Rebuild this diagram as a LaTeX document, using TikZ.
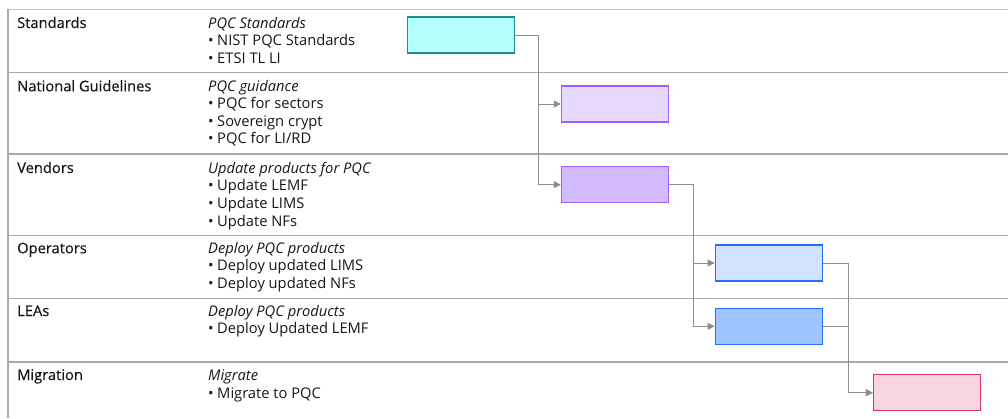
\documentclass[tikz,border=0pt]{standalone}
\usepackage{fontspec}
\setmainfont{Open Sans}
\newfontface\labfont{Open Sans}[FakeBold=0.35]
\usetikzlibrary{arrows.meta}
\definecolor{ink}{HTML}{161616}
\definecolor{sep}{HTML}{A8A8A8}
\definecolor{topsep}{HTML}{C6C6C6}
\definecolor{conncol}{HTML}{8D8D8D}
\definecolor{tealfill}{HTML}{B5FFFF}
\definecolor{tealline}{HTML}{1A8F8C}
\definecolor{purplefillA}{HTML}{E8DAFF}
\definecolor{purplefillB}{HTML}{D4BBFF}
\definecolor{purpleline}{HTML}{A060FF}
\definecolor{bluefillA}{HTML}{D0E2FF}
\definecolor{bluefillB}{HTML}{A0C4FF}
\definecolor{blueline}{HTML}{1F70FF}
\definecolor{magfill}{HTML}{F7D5E1}
\definecolor{magline}{HTML}{D6336F}
\begin{document}
\begin{tikzpicture}[x=1pt,y=-1pt,
  lanetext/.style={anchor=base west,inner sep=0pt,text=ink,font=\fontsize{14.7}{17}\selectfont},
  lanelabel/.style={lanetext,font=\fontsize{14.7}{17}\selectfont\labfont},
  lanehead/.style={lanetext,font=\fontsize{14.7}{17}\selectfont\itshape},
  bul/.style={lanetext},
  sepline/.style={draw=sep,line width=1.3pt},
  bar/.style={draw,line width=1.4pt,minimum width=107pt,minimum height=36pt,inner sep=0pt},
  conn/.style={draw=conncol,line width=1pt,-{Triangle[length=7pt,width=7pt]}}
]
\useasboundingbox (0,0) rectangle (1008,418);
% frame
\draw[draw=topsep,line width=1.5pt] (8,9.3) -- (1008,9.3);
\draw[sepline] (8,72.3) -- (1008,72.3);
\draw[sepline] (8,154) -- (1008,154);
\draw[sepline] (8,235.3) -- (1008,235.3);
\draw[sepline] (8,298.7) -- (1008,298.7);
\draw[sepline] (8,362) -- (1008,362);
\draw[sepline] (8,9.3) -- (8,418);
% lane labels
\node[lanelabel] (l1) at (17,28) {Standards};
\node[lanelabel] (l2) at (17,91.3) {National Guidelines};
\node[lanelabel] (l3) at (17,173) {Vendors};
\node[lanelabel] (l4) at (17,253.3) {Operators};
\node[lanelabel] (l5) at (17,316) {LEAs};
\node[lanelabel] (l6) at (17,380) {Migration};
% descriptions
\node[lanehead] (h1) at (208,28) {PQC Standards};
\node[bul] (b11) at (208,45.7) {•\hspace{3.5pt}NIST PQC Standards};
\node[bul] (b12) at (208,63) {•\hspace{3.5pt}ETSI TL LI};
\node[lanehead] (h2) at (208,91.3) {PQC guidance};
\node[bul] (b21) at (208,108.8) {•\hspace{3.5pt}PQC for sectors};
\node[bul] (b22) at (208,126.3) {•\hspace{3.5pt}Sovereign crypt};
\node[bul] (b23) at (208,143.8) {•\hspace{3.5pt}PQC for LI/RD};
\node[lanehead] (h3) at (208,173) {Update products for PQC};
\node[bul] (b31) at (208,190.7) {•\hspace{3.5pt}Update LEMF};
\node[bul] (b32) at (208,208.3) {•\hspace{3.5pt}Update LIMS};
\node[bul] (b33) at (208,226) {•\hspace{3.5pt}Update NFs};
\node[lanehead] (h4) at (208,253.3) {Deploy PQC products};
\node[bul] (b41) at (208,270.8) {•\hspace{3.5pt}Deploy updated LIMS};
\node[bul] (b42) at (208,288.3) {•\hspace{3.5pt}Deploy updated NFs};
\node[lanehead] (h5) at (208,316) {Deploy PQC products};
\node[bul] (b51) at (208,333.5) {•\hspace{3.5pt}Deploy Updated LEMF};
\node[lanehead] (h6) at (208,380) {Migrate};
\node[bul] (b61) at (208,398) {•\hspace{3.5pt}Migrate to PQC};
% bars
\node[bar,draw=tealline,fill=tealfill] (std) at (460.8,35) {};
\node[bar,draw=purpleline,fill=purplefillA] (nat) at (615,104) {};
\node[bar,draw=purpleline,fill=purplefillB] (ven) at (615,184.7) {};
\node[bar,draw=blueline,fill=bluefillA] (ops) at (768.8,263) {};
\node[bar,draw=blueline,fill=bluefillB] (lea) at (768.8,326.3) {};
\node[bar,draw=magline,fill=magfill] (mig) at (927,392.7) {};
% connectors
\draw[conn] (std.east) -- ++(23.2,0) |- (nat.west);
\draw[conn] (std.east) -- ++(23.2,0) |- (ven.west);
\draw[conn] (ven.east) -- ++(24,0) |- (ops.west);
\draw[conn] (ven.east) -- ++(24,0) |- (lea.west);
\draw[conn] (ops.east) -- ++(25.5,0) |- (mig.west);
\draw[conn] (lea.east) -- ++(25.5,0) |- (mig.west);
\end{tikzpicture}
\end{document}
